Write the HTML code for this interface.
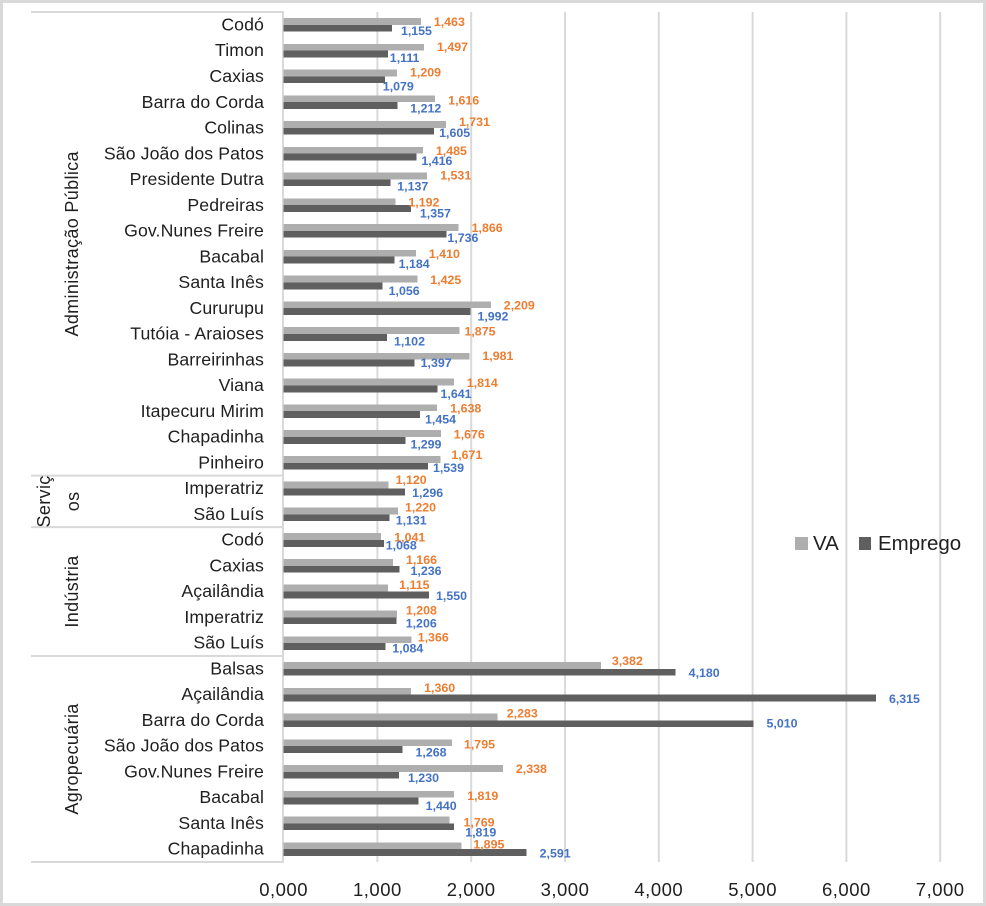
<!DOCTYPE html>
<html lang="pt">
<head>
<meta charset="utf-8">
<title>VA e Emprego por região e setor</title>
<style>
html,body{margin:0;padding:0;background:#fff;}
body{width:986px;height:906px;overflow:hidden;}
svg{display:block;}
text{font-family:"Liberation Sans",sans-serif;}
rect{shape-rendering:crispEdges;}
.cat{font-size:17.7px;fill:#1f1f1f;text-anchor:end;letter-spacing:.1px;}
.tick{font-size:18.5px;fill:#1f1f1f;text-anchor:middle;letter-spacing:.5px;}
.group{font-size:18px;fill:#1f1f1f;text-anchor:middle;letter-spacing:.35px;}
.legend{font-size:20.5px;fill:#1f1f1f;}
.lab{font-size:12.4px;font-weight:bold;}
.lab-va{fill:#ED7D31;}
.lab-emp{fill:#4472C4;}
</style>
</head>
<body>
<svg id="chart" xmlns="http://www.w3.org/2000/svg" width="986" height="906" viewBox="0 0 986 906"></svg>
<script>
const categories = ["Codó","Timon","Caxias","Barra do Corda","Colinas","São João dos Patos","Presidente Dutra","Pedreiras","Gov.Nunes Freire","Bacabal","Santa Inês","Cururupu","Tutóia - Araioses","Barreirinhas","Viana","Itapecuru Mirim","Chapadinha","Pinheiro","Imperatriz","São Luís","Codó","Caxias","Açailândia","Imperatriz","São Luís","Balsas","Açailândia","Barra do Corda","São João dos Patos","Gov.Nunes Freire","Bacabal","Santa Inês","Chapadinha"];
const vaValues = [1463,1497,1209,1616,1731,1485,1531,1192,1866,1410,1425,2209,1875,1981,1814,1638,1676,1671,1120,1220,1041,1166,1115,1208,1366,3382,1360,2283,1795,2338,1819,1769,1895];
const empregoValues = [1155,1111,1079,1212,1605,1416,1137,1357,1736,1184,1056,1992,1102,1397,1641,1454,1299,1539,1296,1131,1068,1236,1550,1206,1084,4180,6315,5010,1268,1230,1440,1819,2591];
const xTicks = [0,1,2,3,4,5,6,7];
const xTickLabels = ["0,000","1,000","2,000","3,000","4,000","5,000","6,000","7,000"];
const groupNames = ["Administração Pública","Serviços","Indústria","Agropecuária"];
const groupSizes = [18,2,5,8];
const seriesNames = ["VA","Emprego"];

/* Hand-placed label nudges, as dragged in the source chart (offset from each bar end / row centre) */
const vaNudgeX = [13,13,13,13,13,13,13,13,13,13,13,13,5,13,13,13,13,11,7,7,13,13,11,9,6,11,13,9,12,13,13,14,12];
const vaNudgeY = [-3,-4,-4,-2,-6,-3,-4,-3,-3,-3,-3,-3,-3,-4,-3,-3,-3,-8,-9,-7,-3,-6,-7,-7,-6,-8,-7,-7,-2,-3,-2,-1,-5];
const empNudgeX = [9,2,-2,13,5,5,7,9,1,4,6,7,7,6,3,5,5,5,7,6,2,11,7,9,7,13,13,13,13,9,7,11,13];
const empNudgeY = [6,7,10,6,5,7,7,8,7,7,8,8,7,3,8,8,7,5,4,6,5,5,4,6,5,4,4,3,6,6,8,9,4];

const svg = document.getElementById('chart');
const NS = 'http://www.w3.org/2000/svg';
const plotTop = 12, plotBottom = 862, plotLeft = 283.6, unitWidth = 93.8;
const rowH = (plotBottom - plotTop) / categories.length;
const barH = 6.8;
const xAxis = v => plotLeft + unitWidth * v / 1000;
const xTickPos = t => plotLeft + unitWidth * t;
const yRow = i => plotTop + rowH * (i + 0.5);
const fmt = v => Math.floor(v / 1000) + ',' + String(v % 1000).padStart(3, '0');

function mk(tag, attrs, txt) {
  const e = document.createElementNS(NS, tag);
  for (const k in attrs) e.setAttribute(k, attrs[k]);
  if (txt !== undefined) e.textContent = txt;
  svg.appendChild(e);
  return e;
}

/* image frame */
const frame = mk('rect', {x:1.5, y:1.5, width:983, height:903, fill:'#fff', stroke:'#D9D9D9', 'stroke-width':3});



/* gridlines */
xTicks.forEach((t, i) => {
  if (t > 0) {
    const g = mk('line', {x1:xTickPos(t), x2:xTickPos(t), y1:plotTop, y2:plotBottom, stroke:'#D9D9D9', 'stroke-width':2});
    
    
  }
  const lbl = mk('text', {class:'tick', x:xTickPos(t), y:896}, xTickLabels[i]);
  
  
});

/* category axis with group separators */
const axisLine = mk('line', {x1:283, x2:283, y1:plotTop - 1, y2:plotBottom + 1, stroke:'#D9D9D9', 'stroke-width':2});



let rowCursor = 0;
const topSep = mk('line', {x1:31, x2:284, y1:plotTop, y2:plotTop, stroke:'#D9D9D9', 'stroke-width':2});



groupSizes.forEach((n, gi) => {
  const y0 = plotTop + rowCursor * rowH;
  rowCursor += n;
  const y1 = plotTop + rowCursor * rowH;
  const sep = mk('line', {x1:31, x2:284, y1:y1, y2:y1, stroke:'#D9D9D9', 'stroke-width':2});
  
  
  const cy = (y0 + y1) / 2;
  const name = groupNames[gi];
  if (n <= 2) {
    /* narrow band: the source wraps this group name on two rotated lines */
    const a = mk('text', {class:'group', transform:'translate(50,' + cy + ') rotate(-90)'}, name.slice(0, 6));
    
    
    const b = mk('text', {class:'group', transform:'translate(79,' + cy + ') rotate(-90)'}, name.slice(6));
    
    
  } else {
    const t = mk('text', {class:'group', transform:'translate(78,' + cy + ') rotate(-90)'}, name);
    
    
  }
});

/* bars + labels */
categories.forEach((c, i) => {
  const yc = yRow(i);
  const cat = mk('text', {class:'cat', x:264, y:yc + 5.6}, c);
  
  

  const va = mk('rect', {x:plotLeft, y:yc - barH, width:xAxis(vaValues[i]) - plotLeft, height:barH, fill:'#AEAEAE'});
  
  

  const em = mk('rect', {x:plotLeft, y:yc, width:xAxis(empregoValues[i]) - plotLeft, height:barH, fill:'#5F5F5F'});
  
  
});
categories.forEach((c, i) => {
  const yc = yRow(i);
  const vl = mk('text', {class:'lab lab-va', x:xAxis(vaValues[i]) + vaNudgeX[i], y:yc + vaNudgeY[i] + 4.3}, fmt(vaValues[i]));
  
  

  const el = mk('text', {class:'lab lab-emp', x:xAxis(empregoValues[i]) + empNudgeX[i], y:yc + empNudgeY[i] + 4.3}, fmt(empregoValues[i]));
  
  
});

/* legend */
const ls1 = mk('rect', {x:795, y:537, width:13, height:13, fill:'#AEAEAE'});


const lt1 = mk('text', {class:'legend', x:813, y:550}, seriesNames[0]);


const ls2 = mk('rect', {x:859, y:537, width:12, height:13, fill:'#5F5F5F'});


const lt2 = mk('text', {class:'legend', x:878, y:550}, seriesNames[1]);


</script>
</body>
</html>
